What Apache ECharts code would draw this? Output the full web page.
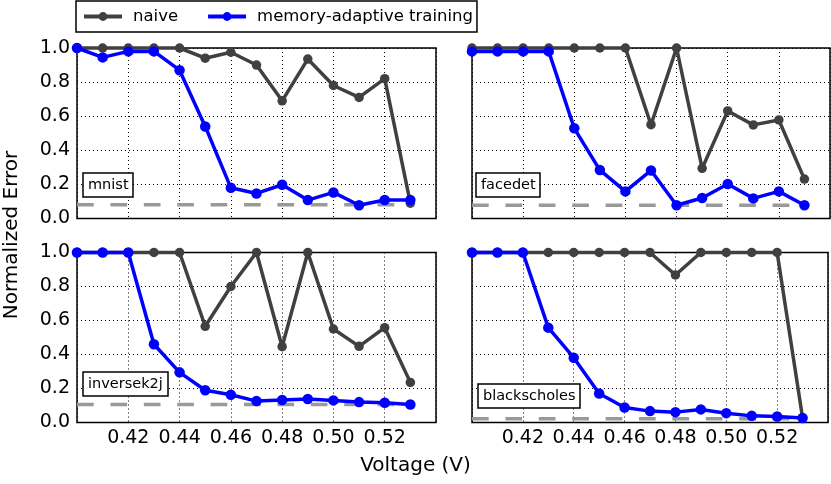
<!DOCTYPE html>
<html>
<head>
<meta charset="utf-8">
<script src="https://cdn.jsdelivr.net/npm/echarts@6/dist/echarts.min.js"></script>
<style>html,body{margin:0;padding:0;background:#fff}#c{width:831px;height:484px}</style>
</head>
<body>
<div id="c"></div>
<script>
const voltages = [0.40,0.41,0.42,0.43,0.44,0.45,0.46,0.47,0.48,0.49,0.50,0.51,0.52,0.53];
const panelNames = ['mnist','facedet','inversek2j','blackscholes'];
const mnistNaive = [1,1,1,1,1,0.94,0.975,0.90,0.69,0.935,0.78,0.71,0.82,0.09];
const mnistAdaptive = [1,0.945,0.98,0.98,0.87,0.54,0.18,0.147,0.198,0.108,0.153,0.078,0.108,0.108];
const facedetNaive = [1,1,1,1,1,1,1,0.55,1,0.294,0.631,0.549,0.578,0.231];
const facedetAdaptive = [0.98,0.98,0.98,0.98,0.529,0.284,0.159,0.282,0.078,0.12,0.202,0.118,0.159,0.078];
const inversek2jNaive = [1,1,1,1,1,0.566,0.80,1,0.446,1,0.55,0.448,0.558,0.236];
const inversek2jAdaptive = [1,1,1,0.46,0.295,0.19,0.163,0.126,0.132,0.138,0.13,0.12,0.116,0.106];
const blackscholesNaive = [1,1,1,1,1,1,1,1,0.868,1,1,1,1,0.028];
const blackscholesAdaptive = [1,1,1,0.558,0.381,0.171,0.088,0.067,0.061,0.077,0.055,0.039,0.035,0.026];
const baselineLevels = [0.08,0.078,0.106,0.022];
const xTickLabels = ['0.42','0.44','0.46','0.48','0.50','0.52'];
const yTickLabels = ['0.0','0.2','0.4','0.6','0.8','1.0'];

const naiveSets = [mnistNaive, facedetNaive, inversek2jNaive, blackscholesNaive];
const adaptiveSets = [mnistAdaptive, facedetAdaptive, inversek2jAdaptive, blackscholesAdaptive];

const FONT = 'DejaVu Sans';
const grids = [
  {left:77, top:48, width:359, height:170.5},
  {left:472, top:48, width:358, height:170.5},
  {left:77, top:252.5, width:359, height:170},
  {left:472, top:252.5, width:358, height:170}
];
const boxPos = [[83,173],[476,173],[83,372],[478,384]];

const pair = (arr) => voltages.map((v,i)=>[v,arr[i]]);

const xAxes = [], yAxes = [], series = [], titles = [];
grids.forEach((g,i)=>{
  xAxes.push({
    type:'value', gridIndex:i, min:0.40, max:0.54, interval:0.02,
    axisLine:{show:false}, axisTick:{show:false},
    axisLabel:{show:i>=2, fontFamily:FONT, fontSize:19, color:'#000', margin:6,
      formatter:(v)=>{const s=v.toFixed(2); return xTickLabels.indexOf(s)>=0?s:'';}},
    splitLine:{show:true, lineStyle:{color:'#000', width:1, type:[1,3]}}
  });
  yAxes.push({
    type:'value', gridIndex:i, min:0, max:1, interval:0.2,
    axisLine:{show:false}, axisTick:{show:false},
    axisLabel:{show:i%2===0, fontFamily:FONT, fontSize:19, color:'#000', margin:7,
      formatter:(v)=>{const s=v.toFixed(1); return yTickLabels.indexOf(s)>=0?s:'';}},
    splitLine:{show:true, lineStyle:{color:'#000', width:1, type:[1,3]}}
  });
  series.push({
    name:'baseline', type:'line', xAxisIndex:i, yAxisIndex:i, symbol:'none', silent:true,
    data:[[voltages[0],baselineLevels[i]],[voltages[voltages.length-1],baselineLevels[i]]],
    lineStyle:{color:'#999999', width:3.5, type:[16.7,16.7]}, z:2
  });
  series.push({
    name:'naive', type:'line', xAxisIndex:i, yAxisIndex:i, data:pair(naiveSets[i]),
    symbol:'circle', symbolSize:9.5, clip:false,
    lineStyle:{color:'#404040', width:3.5}, itemStyle:{color:'#404040'}, z:3
  });
  series.push({
    name:'memory-adaptive training', type:'line', xAxisIndex:i, yAxisIndex:i, data:pair(adaptiveSets[i]),
    symbol:'circle', symbolSize:10.5, clip:false,
    lineStyle:{color:'#0000ff', width:3.5}, itemStyle:{color:'#0000ff'}, z:4
  });
  titles.push({
    text:panelNames[i], left:boxPos[i][0], top:boxPos[i][1],
    backgroundColor:'#fff', borderColor:'#000', borderWidth:1.5, padding:[4,5,3,5],
    textStyle:{fontFamily:FONT, fontSize:14.5, fontWeight:'normal', color:'#000', lineHeight:17}
  });
});

const chart = echarts.init(document.getElementById('c'), null, {renderer:'canvas'});
chart.setOption({
  animation:false,
  backgroundColor:'#fff',
  title:titles,
  grid:grids.map(g=>Object.assign({show:true, borderColor:'#000', borderWidth:1.5, containLabel:false}, g)),
  xAxis:xAxes, yAxis:yAxes, series:series,
  legend:{
    data:['naive','memory-adaptive training'],
    left:76, top:1, orient:'horizontal',
    backgroundColor:'#fff', borderColor:'#000', borderWidth:1.5,
    padding:[7,4,7,6], itemWidth:38, itemHeight:11, itemGap:28,
    lineStyle:{width:4},
    textStyle:{fontFamily:FONT, fontSize:16.5, color:'#000', padding:[0,0,0,6]}
  },
  graphic:[
    {type:'text', left:'center', top:456, style:{text:'Voltage (V)', font:'20px "DejaVu Sans"', fill:'#000'}},
    {type:'text', x:2, y:235, rotation:Math.PI/2, style:{text:'Normalized Error', font:'20px "DejaVu Sans"', fill:'#000', align:'center', verticalAlign:'top'}}
  ]
});
</script>
</body>
</html>
